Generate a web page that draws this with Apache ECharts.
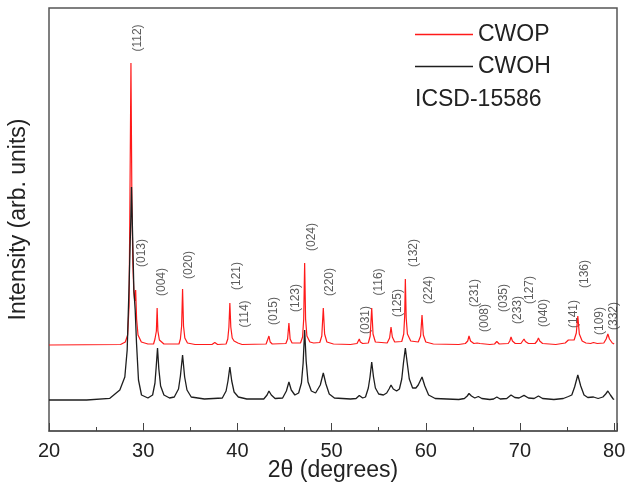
<!DOCTYPE html>
<html>
<head>
<meta charset="utf-8">
<script src="https://cdn.jsdelivr.net/npm/echarts@6/dist/echarts.min.js"></script>
<style>
  html, body { margin: 0; padding: 0; background: #fff; }
  #main { width: 625px; height: 486px; }
</style>
</head>
<body>
<div id="main"></div>
<script>
// 2theta / intensity (arb. units, CWOP offset above CWOH)
var cwop = [
  [20, 86], [27.6, 86.5], [28.1, 89], [28.35, 96], [28.5, 125], [28.6, 240], [28.7, 368], [28.8, 230],
  [28.9, 168], [29.0, 140], [29.1, 130], [29.2, 141], [29.3, 112], [29.45, 96], [29.8, 89], [30.5, 87], [31.1, 87],
  [31.25, 92], [31.4, 100], [31.48, 123], [31.56, 100], [31.72, 91], [32.2, 87],
  [33.8, 87], [33.95, 92], [34.08, 105], [34.18, 142], [34.28, 105], [34.42, 93], [34.7, 88], [35.5, 86.5],
  [37.3, 86.5], [37.6, 88.5], [37.9, 86.5],
  [38.8, 87], [38.98, 92], [39.1, 104], [39.2, 128], [39.3, 104], [39.45, 93], [39.65, 90], [39.84, 91], [40.05, 88], [40.5, 86.5],
  [43.05, 87], [43.22, 89], [43.35, 95], [43.48, 89], [43.7, 87],
  [45.15, 87.5], [45.33, 92], [45.47, 108], [45.6, 92], [45.8, 88],
  [46.7, 88], [46.92, 94], [47.04, 112], [47.14, 168], [47.24, 112], [47.38, 95], [47.7, 89], [48.1, 88],
  [48.75, 88.5], [48.96, 95], [49.12, 123], [49.26, 97], [49.5, 89], [50.2, 87], [52.0, 86.5],
  [52.7, 87.5], [52.85, 89], [52.94, 92], [53.05, 89], [53.3, 87.5],
  [53.9, 88], [54.1, 95], [54.26, 123], [54.4, 97], [54.65, 89],
  [55.9, 88], [56.16, 93], [56.31, 104], [56.45, 94], [56.7, 89],
  [57.45, 89.5], [57.66, 97], [57.76, 115], [57.83, 152], [57.92, 113], [58.05, 97], [58.4, 90],
  [59.2, 89], [59.45, 95], [59.6, 116], [59.74, 96], [60.0, 89], [60.8, 87], [63.5, 86.5],
  [64.2, 87.5], [64.45, 90], [64.59, 95], [64.75, 90], [65.1, 87.5], [65.45, 88], [65.58, 89], [65.75, 87.5], [66.8, 86.5],
  [67.3, 87], [67.54, 89.5], [67.8, 87],
  [68.75, 87.5], [68.92, 90], [69.05, 94], [69.2, 90], [69.5, 87.5],
  [70.1, 87.5], [70.3, 89.5], [70.43, 92], [70.57, 89.5], [70.9, 87.5],
  [71.6, 87.5], [71.82, 90], [71.96, 93], [72.1, 90], [72.4, 87.5], [73.8, 86.5],
  [74.8, 88], [75.14, 91], [75.35, 89], [75.75, 91], [75.98, 98], [76.14, 115], [76.3, 97], [76.6, 90], [77.0, 88],
  [77.5, 87.5], [77.8, 88.5], [78.2, 87.5],
  [78.9, 88], [79.15, 92], [79.33, 97], [79.5, 92], [79.8, 88], [80.0, 87]
];

var cwoh = [
  [20, 31], [24, 31], [26.46, 32.7], [27.52, 41], [28.05, 54], [28.3, 81], [28.51, 148], [28.69, 214], [28.76, 244],
  [28.87, 198], [29.01, 141], [29.15, 121], [29.29, 88], [29.5, 51], [29.82, 36], [30.5, 33],
  [31.0, 36], [31.25, 48], [31.38, 64], [31.52, 83], [31.66, 62], [31.85, 45], [32.2, 36], [32.8, 33],
  [33.3, 34], [33.75, 42], [33.95, 55], [34.18, 76], [34.4, 54], [34.65, 41], [35.1, 34], [36.5, 32],
  [38.4, 33], [38.8, 40], [39.0, 50], [39.2, 64], [39.4, 50], [39.65, 39], [39.84, 37], [40.1, 34], [41, 32],
  [42.8, 32], [43.15, 36], [43.35, 40], [43.6, 36], [44.0, 32.5],
  [44.8, 33], [45.2, 40], [45.47, 49], [45.72, 41], [46.1, 36],
  [46.5, 38], [46.8, 48], [46.98, 68], [47.14, 101], [47.3, 70], [47.5, 49], [47.85, 40], [48.3, 38],
  [48.5, 39], [48.8, 46], [49.12, 58], [49.4, 47], [49.75, 37], [50.3, 33], [52.0, 32],
  [52.6, 32.5], [52.94, 35.5], [53.3, 33],
  [53.6, 34], [53.9, 43], [54.08, 54], [54.26, 69], [54.45, 54], [54.65, 43], [55.0, 37], [55.5, 36],
  [55.85, 38], [56.1, 42], [56.31, 46], [56.55, 42], [56.9, 40],
  [57.2, 42], [57.45, 52], [57.63, 68], [57.83, 83], [58.03, 68], [58.25, 52], [58.6, 43], [58.95, 43],
  [59.2, 46], [59.6, 54], [59.9, 45], [60.3, 36], [61.0, 32.5], [63.5, 31.5],
  [64.1, 32.5], [64.4, 35], [64.59, 37.5], [64.85, 35], [65.2, 33], [65.58, 34.5], [65.95, 32.5], [66.8, 31.5],
  [67.2, 32], [67.54, 34], [67.9, 32],
  [68.6, 32.5], [69.05, 36], [69.45, 33.5],
  [69.9, 33], [70.43, 35.6], [70.9, 33],
  [71.5, 32.5], [71.96, 35], [72.4, 32.5], [73.6, 31.5],
  [74.6, 32.5], [75.14, 34.5], [75.5, 36], [75.8, 44], [76.14, 56], [76.45, 45], [76.8, 36], [77.2, 33.5],
  [77.8, 34], [78.3, 32.5],
  [78.8, 34], [79.1, 37], [79.33, 40], [79.6, 36], [79.9, 32], [80.0, 31.5]
];

// Miller indices and where their labels sit
var hkl = ['(112)', '(013)', '(004)', '(020)', '(121)', '(114)', '(015)', '(123)', '(024)', '(220)',
  '(031)', '(116)', '(125)', '(132)', '(224)', '(231)', '(008)', '(035)', '(233)', '(127)',
  '(040)', '(141)', '(136)', '(109)', '(332)'];
var hklPos = [
  [29.46, 393], [29.83, 178], [31.95, 149], [34.78, 166], [39.92, 155], [40.8, 117], [43.88, 120],
  [46.18, 133], [47.88, 194], [49.83, 149], [53.62, 111], [54.96, 149], [56.98, 128], [58.68, 178],
  [60.27, 141], [65.23, 138], [66.29, 113], [68.24, 133], [69.72, 121], [71.07, 141], [72.49, 118],
  [75.67, 117], [76.91, 157], [78.43, 110], [79.92, 115]
];

var font = 'Liberation Sans, Arial, sans-serif';
var chart = echarts.init(document.getElementById('main'));

chart.setOption({
  animation: false,
  backgroundColor: '#fff',
  grid: {
    left: 49, right: 8, top: 8, bottom: 55,
    outerBoundsMode: 'none',
    show: true, borderColor: '#555', borderWidth: 1.5
  },
  title: {
    text: 'ICSD-15586',
    left: 410, top: 83,
    textStyle: { fontFamily: font, fontSize: 23, fontWeight: 'normal', color: '#222' }
  },
  legend: {
    orient: 'vertical',
    left: 410, top: 18,
    itemWidth: 58, itemHeight: 1.5, itemGap: 9,
    icon: 'rect',
    data: ['CWOP', 'CWOH'],
    textStyle: { fontFamily: font, fontSize: 23, color: '#222' }
  },
  xAxis: {
    type: 'value',
    min: 20, max: 80.3, interval: 10,
    name: '2θ (degrees)',
    nameLocation: 'middle',
    nameGap: 28,
    nameMoveOverlap: false,
    nameTextStyle: { fontFamily: font, fontSize: 23, color: '#222' },
    axisLine: { show: true, lineStyle: { color: '#555', width: 1.5 } },
    axisTick: { show: true, inside: true, length: 8, lineStyle: { color: '#444' } },
    minorTick: { show: true, splitNumber: 2, length: 4, lineStyle: { color: '#444' } },
    axisLabel: {
      showMaxLabel: false,
      margin: 10,
      fontFamily: font, fontSize: 20, color: '#222',
      formatter: function (v) { return v % 10 === 0 ? String(v) : ''; }
    },
    splitLine: { show: false }
  },
  yAxis: {
    type: 'value',
    min: 0, max: 423,
    name: 'Intensity (arb. units)',
    nameLocation: 'middle',
    nameGap: 19,
    nameMoveOverlap: false,
    nameTextStyle: { fontFamily: font, fontSize: 23, color: '#222' },
    axisLine: { show: false },
    axisTick: { show: false },
    axisLabel: { show: false },
    splitLine: { show: false }
  },
  series: [
    {
      name: 'CWOP', type: 'line', data: cwop,
      showSymbol: false, color: '#ff1a1a',
      lineStyle: { width: 1.2 }
    },
    {
      name: 'CWOH', type: 'line', data: cwoh,
      showSymbol: false, color: '#1e1e1e',
      lineStyle: { width: 1.3 }
    },
    {
      type: 'scatter', silent: true, symbolSize: 0,
      data: hklPos.map(function (p, i) { return { value: p, name: hkl[i] }; }),
      label: {
        show: true, position: 'inside', rotate: 90,
        formatter: '{b}',
        fontFamily: font, fontSize: 12, color: '#333'
      }
    }
  ]
});
</script>
</body>
</html>
